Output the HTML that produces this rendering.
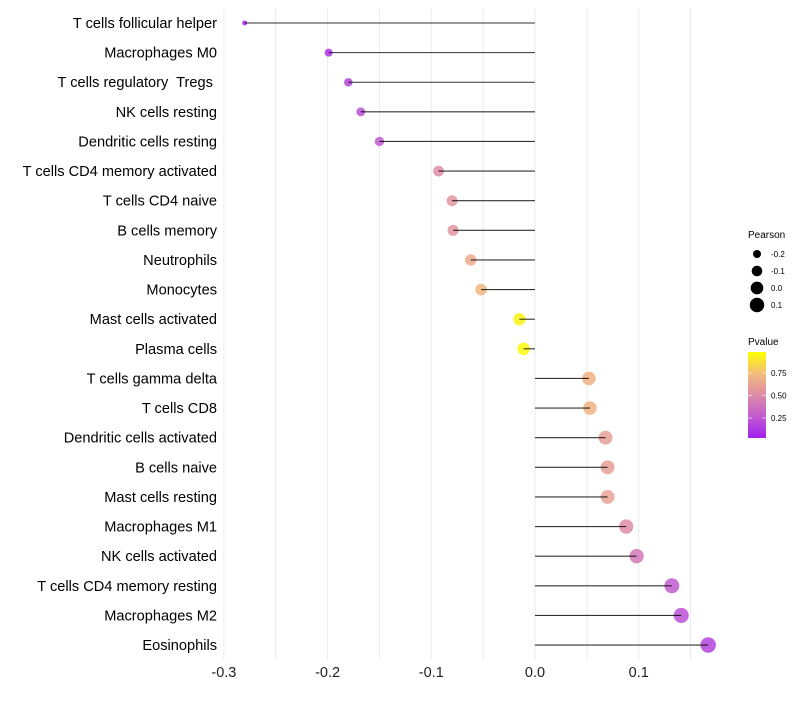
<!DOCTYPE html>
<html><head><meta charset="utf-8"><style>
body{margin:0;background:#fff;font-family:"Liberation Sans",sans-serif}
text{white-space:pre}
</style></head><body>
<svg id="chart" width="800" height="700" xmlns="http://www.w3.org/2000/svg"></svg>
<script>
const categories=["T cells follicular helper","Macrophages M0","T cells regulatory  Tregs ","NK cells resting","Dendritic cells resting","T cells CD4 memory activated","T cells CD4 naive","B cells memory","Neutrophils","Monocytes","Mast cells activated","Plasma cells","T cells gamma delta","T cells CD8","Dendritic cells activated","B cells naive","Mast cells resting","Macrophages M1","NK cells activated","T cells CD4 memory resting","Macrophages M2","Eosinophils"];
const pearson=[-0.28,-0.199,-0.18,-0.168,-0.15,-0.093,-0.08,-0.079,-0.062,-0.052,-0.015,-0.011,0.052,0.053,0.068,0.07,0.07,0.088,0.098,0.132,0.141,0.167];
const pvalue=[0.03,0.08,0.15,0.2,0.25,0.5,0.55,0.55,0.65,0.72,0.95,0.98,0.7,0.7,0.6,0.6,0.62,0.5,0.4,0.25,0.2,0.15];
const xTicks=[-0.3,-0.2,-0.1,0.0,0.1];
const xTickLabels=["-0.3","-0.2","-0.1","0.0","0.1"];
const sizeLegend=[-0.2,-0.1,0.0,0.1];
const sizeLegendLabels=["-0.2","-0.1","0.0","0.1"];
const colorTicks=[0.25,0.5,0.75];
const colorTickLabels=["0.25","0.50","0.75"];

const NS="http://www.w3.org/2000/svg";
const svg=document.getElementById('chart');
function el(t,a,p){const e=document.createElementNS(NS,t);for(const k in a)e.setAttribute(k,a[k]);(p||svg).appendChild(e);return e;}
const x=v=>535+v*1037;
const y=i=>23+i*29.62;
const r=v=>Math.sqrt(Math.max(40+120*v,4));
const stops=[[0,[160,32,240]],[0.25,[194,92,208]],[0.5,[222,140,168]],[0.75,[243,188,122]],[1,[255,255,0]]];
function col(p){for(let i=1;i<stops.length;i++){if(p<=stops[i][0]){const a=stops[i-1],b=stops[i];const t=(p-a[0])/(b[0]-a[0]);const c=a[1].map((v,j)=>Math.round(v+(b[1][j]-v)*t));return `rgb(${c})`;}}return 'rgb(255,255,0)';}

for(let v=-0.3;v<=0.151;v+=0.05){
  const g=el('line',{x1:x(v),x2:x(v),y1:8,y2:660,stroke:'#ebebeb','stroke-width':1});
  
  
}
xTicks.forEach((v,i)=>{
  const t=el('text',{x:x(v),y:677,'text-anchor':'middle','font-size':14.5,fill:'#222'});
  t.textContent=xTickLabels[i];
  
  
});
categories.forEach((c,i)=>{
  const t=el('text',{x:217,y:y(i)+5,'text-anchor':'end','font-size':14.6,fill:'#000'});
  t.textContent=c;
  
  
  const pt=el('circle',{cx:x(pearson[i]),cy:y(i),r:r(pearson[i]),fill:col(pvalue[i]),'fill-opacity':0.85});
  
  
  const ln=el('line',{x1:x(pearson[i]),x2:x(0),y1:y(i),y2:y(i),stroke:'#000','stroke-width':1.1,'stroke-opacity':0.8});
  
  
});
let t=el('text',{x:748,y:238,'font-size':10,fill:'#000'});t.textContent='Pearson';


sizeLegend.forEach((v,i)=>{
  const cy=254+i*17;
  const c=el('circle',{cx:757,cy:cy,r:r(v),fill:'#000'});
  
  
  const tt=el('text',{x:771,y:cy+3,'font-size':8,fill:'#000'});tt.textContent=sizeLegendLabels[i];
  
  
});
t=el('text',{x:748,y:345,'font-size':10,fill:'#000'});t.textContent='Pvalue';


const defs=el('defs',{});const lg=el('linearGradient',{id:'pg',x1:0,y1:1,x2:0,y2:0},defs);
stops.forEach(s=>el('stop',{offset:s[0],'stop-color':`rgb(${s[1]})`},lg));
const bar=el('rect',{x:748,y:352,width:18,height:86,fill:'url(#pg)'});


const cy=p=>438-(p-0.03)/(0.98-0.03)*86;
colorTicks.forEach((v,i)=>{
  el('line',{x1:748,x2:752,y1:cy(v),y2:cy(v),stroke:'#fff','stroke-opacity':0.6});
  el('line',{x1:762,x2:766,y1:cy(v),y2:cy(v),stroke:'#fff','stroke-opacity':0.6});
  const tt=el('text',{x:771,y:cy(v)+3,'font-size':8,fill:'#000'});tt.textContent=colorTickLabels[i];
  
  
});
</script>
</body></html>
